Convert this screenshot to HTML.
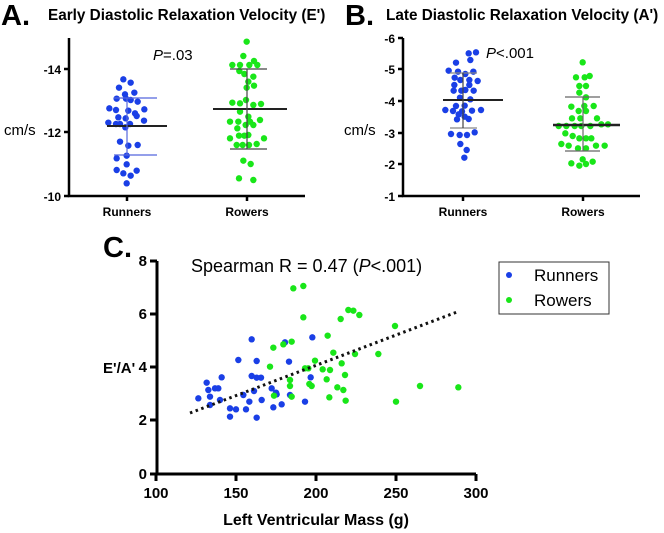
<!DOCTYPE html>
<html><head><meta charset="utf-8"><style>
html,body{margin:0;padding:0;background:#fff;}
svg{display:block;font-family:"Liberation Sans",Arial,sans-serif;}
</style></head><body>
<svg id="s" width="664" height="533" viewBox="0 0 664 533" xmlns="http://www.w3.org/2000/svg">
<rect width="664" height="533" fill="#fff"/>
<!-- Panel A -->
<text x="1" y="25" font-size="29" font-weight="bold">A.</text>
<text x="48" y="20" font-size="15.3" font-weight="bold">Early Diastolic Relaxation Velocity (E')</text>
<g stroke="#000" stroke-width="2.5" fill="none">
<path d="M69,38 V196 H305"/>
<path d="M64,69 H69 M64,132 H69 M64,196 H69 M127,196 V201 M247,196 V201"/>
</g>
<g font-size="12" font-weight="bold" text-anchor="end">
<text x="61" y="74">-14</text><text x="61" y="137">-12</text><text x="61" y="201">-10</text>
</g>
<text x="4" y="135" font-size="15">cm/s</text>
<g font-size="12" font-weight="bold" text-anchor="middle"><text x="127" y="216">Runners</text><text x="247" y="216">Rowers</text></g>
<text x="153" y="60" font-size="15"><tspan font-style="italic">P</tspan>=.03</text>
<!-- Panel B -->
<text x="345" y="25" font-size="29" font-weight="bold">B.</text>
<text x="386" y="20" font-size="15.3" font-weight="bold">Late Diastolic Relaxation Velocity (A')</text>
<g stroke="#000" stroke-width="2.5" fill="none">
<path d="M403,38 V196 H640"/>
<path d="M398,38 H403 M398,69 H403 M398,101 H403 M398,133 H403 M398,164 H403 M398,196 H403 M463,196 V201 M583,196 V201"/>
</g>
<g font-size="12" font-weight="bold" text-anchor="end">
<text x="395" y="43">-6</text><text x="395" y="74">-5</text><text x="395" y="106">-4</text><text x="395" y="138">-3</text><text x="395" y="169">-2</text><text x="395" y="201">-1</text>
</g>
<text x="344" y="135" font-size="15">cm/s</text>
<g font-size="12" font-weight="bold" text-anchor="middle"><text x="463" y="216">Runners</text><text x="583" y="216">Rowers</text></g>
<text x="486" y="58" font-size="15"><tspan font-style="italic">P</tspan>&lt;.001</text>
<!-- Panel C -->
<text x="103" y="257" font-size="29" font-weight="bold">C.</text>
<g stroke="#000" stroke-width="3" fill="none">
<path d="M157,261 V474 H476"/>
<path d="M150,261 H157 M150,314 H157 M150,367 H157 M150,420 H157 M150,474 H157"/>
<path d="M156,474 V481 M236,474 V481 M316,474 V481 M396,474 V481 M476,474 V481"/>
</g>
<g font-size="15" font-weight="bold" text-anchor="end">
<text x="147" y="266">8</text><text x="147" y="319">6</text><text x="147" y="372">4</text><text x="147" y="425">2</text><text x="147" y="479">0</text>
</g>
<g font-size="15" font-weight="bold" text-anchor="middle">
<text x="156" y="498">100</text><text x="236" y="498">150</text><text x="316" y="498">200</text><text x="396" y="498">250</text><text x="476" y="498">300</text>
</g>
<text x="316" y="525" font-size="16" font-weight="bold" text-anchor="middle">Left Ventricular Mass (g)</text>
<text x="103" y="373" font-size="15" font-weight="bold">E'/A'</text>
<text x="191" y="272" font-size="18">Spearman R = 0.47 (<tspan font-style="italic">P</tspan>&lt;.001)</text>
<rect x="499" y="262" width="110" height="52" fill="none" stroke="#333" stroke-width="1"/>
<circle cx="509" cy="275" r="3" fill="#1a3fe6"/><circle cx="509" cy="300" r="3" fill="#19e619"/>
<text x="534" y="281" font-size="17">Runners</text><text x="534" y="306" font-size="17">Rowers</text>
<g id="dots"></g>
<g id="lines" stroke-linecap="butt"></g>
</svg>
<script>
var B="#1a3fe6",G="#19e619",d=document.getElementById("dots"),L=document.getElementById("lines");
function dot(x,y,c){var e=document.createElementNS("http://www.w3.org/2000/svg","circle");e.setAttribute("cx",x);e.setAttribute("cy",y);e.setAttribute("r",3.2);e.setAttribute("fill",c);d.appendChild(e);}
function pts(a,ox,oy,c){for(var i=0;i<a.length;i+=2)dot(ox+a[i]/3,oy+a[i+1]/3,c);}
pts([370,238,392,248,357,263,403,278,375,283,350,296,378,296,392,300,413,305,328,325,348,330,385,332,405,340,433,328,355,352,377,355,410,348,432,362,325,368,348,372,360,372,390,372,376,382,360,425,385,437,413,435,380,467,350,475,380,493,350,510,410,512,370,520,392,527,380,550],0,0,B);
pts([740,125,730,168,762,183,697,195,720,195,748,195,772,195,718,213,733,222,760,230,745,245,762,257,740,263,738,300,697,308,720,310,760,315,783,312,720,335,745,350,690,365,715,365,750,365,780,360,712,385,737,375,760,375,745,405,733,407,690,415,717,407,792,415,710,435,728,435,747,435,770,432,730,482,752,492,717,535,760,540],0,0,G);
pts([432,157,410,160,372,188,415,180,350,212,378,215,400,222,424,215,368,233,385,240,412,240,437,243,367,255,412,255,388,272,400,270,365,272,425,272,384,293,415,298,372,318,398,317,340,330,363,333,390,334,420,332,447,330,380,343,398,350,375,358,410,357,357,402,383,405,405,405,428,397,385,432,404,450,397,473],332,0,B);
pts([752,187,732,232,758,232,773,228,742,258,762,258,742,278,762,292,718,320,757,318,785,318,740,333,762,333,720,355,745,355,795,355,680,378,703,378,728,378,748,378,775,378,808,373,828,373,700,400,722,408,742,415,762,415,778,415,688,432,710,437,738,445,762,445,792,437,818,437,752,478,718,490,742,497,762,492,782,485],332,0,G);
pts([295,475,320,428,325,450,330,470,330,495,345,445,355,445,360,480,365,412,390,505,390,530,408,508,415,360,430,465,438,508,448,485,455,298,455,408,462,453,470,363,470,413,470,533,483,413,485,480,515,445,520,502,528,458,530,463,545,493,555,307,567,365,570,465,615,485,632,412,637,292],100,240,B);
pts([510,380,520,323,522,467,550,313,570,420,570,438,575,305,575,470,580,145,610,138,610,232,615,385,625,385,628,432,635,438,645,362,668,388,680,418,683,287,688,472,690,390,700,338,712,442,722,237,725,370,730,450,735,405,737,482,745,210,760,212,765,342,778,225,835,342,885,258,888,485,960,438,1075,442],100,240,G);
function ln(x1,y1,x2,y2,w,c,da){var e=document.createElementNS("http://www.w3.org/2000/svg","line");e.setAttribute("x1",x1);e.setAttribute("y1",y1);e.setAttribute("x2",x2);e.setAttribute("y2",y2);e.setAttribute("stroke",c);e.setAttribute("stroke-width",w);if(da)e.setAttribute("stroke-dasharray",da);L.appendChild(e);}
ln(107,126,167,126,2,"#222");ln(114,98,157,98,1.2,"#5566dd");ln(114,155,157,155,1.2,"#5566dd");ln(127,98,127,155,1.2,"#5566dd");
ln(213,109,287,109,2,"#222");ln(230,69,267,69,1.2,"#444");ln(230,149,267,149,1.2,"#444");ln(247,69,247,149,1.2,"#444");
ln(443,100,503,100,2,"#222");ln(450,73,477,73,1.2,"#888");ln(450,128,477,128,1.2,"#888");ln(463,73,463,128,1.2,"#444");
ln(553,125,620,125,2.5,"#222");ln(565,97,600,97,1.2,"#666");ln(565,151,600,151,1.2,"#666");ln(583,97,583,151,1.2,"#666");
ln(190,413,457,312,3,"#111","2.5 3.5");
</script>
</body></html>
